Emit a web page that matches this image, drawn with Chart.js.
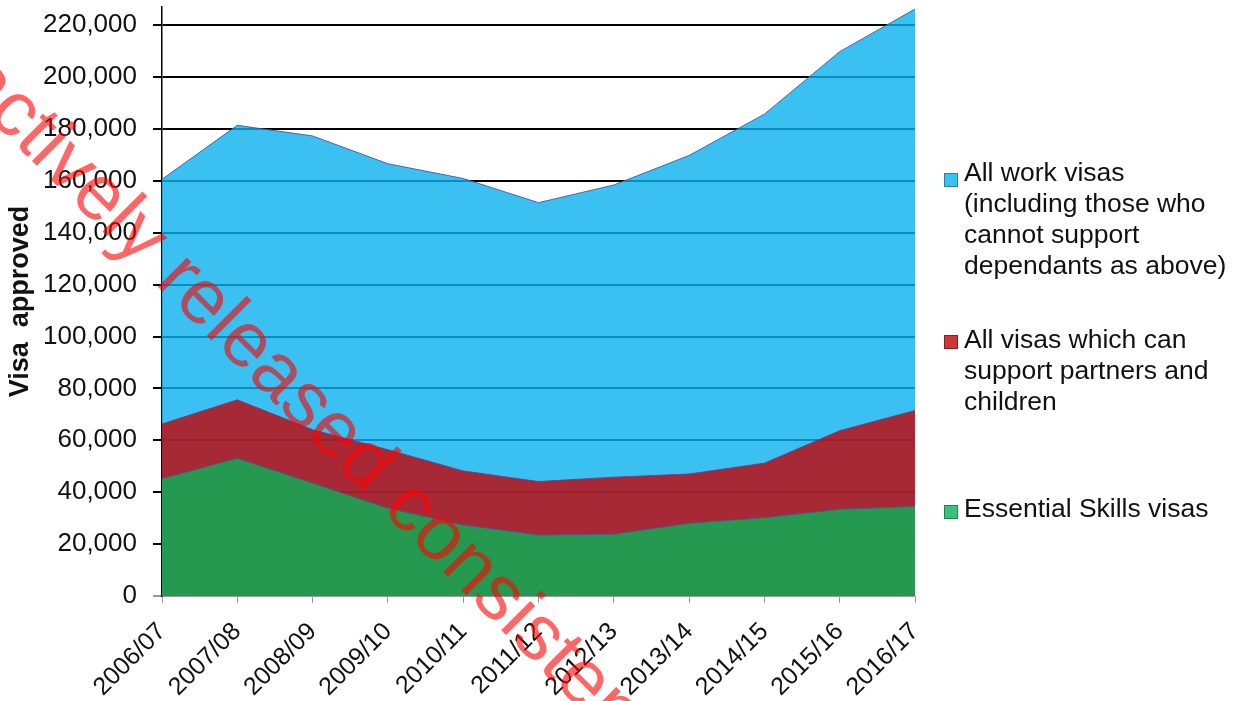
<!DOCTYPE html>
<html>
<head>
<meta charset="utf-8">
<script src="https://cdn.jsdelivr.net/npm/chart.js@4/dist/chart.umd.min.js"></script>
<style>
  html, body { margin: 0; padding: 0; background: #fff; }
  #wrap { position: relative; width: 1239px; height: 701px; overflow: hidden; }
  #c { position: absolute; left: 0; top: 0; }
  .leg { position: absolute; left: 964px; font-family: "Liberation Sans", Arial, sans-serif; font-size: 26.5px; line-height: 31px; color: #111; white-space: nowrap; }
  .sq { position: absolute; left: 944px; width: 12px; height: 12px; }
</style>
</head>
<body>
<div id="wrap">
  <canvas id="c" width="1239" height="701"></canvas>
</div>
<script>
const categories = ['2006/07','2007/08','2008/09','2009/10','2010/11','2011/12','2012/13','2013/14','2014/15','2015/16','2016/17'];
const allWorkVisas      = [160600, 181400, 177300, 166600, 160900, 151600, 158400, 169800, 185700, 209800, 226200];
const partnersChildren  = [66300, 75600, 64100, 56400, 48200, 44100, 45800, 47000, 51200, 63700, 71500];
const essentialSkills   = [45200, 53100, 43500, 33800, 27400, 23500, 23800, 28000, 30200, 33400, 34500];
const seriesNames = [
  ['All work visas', '(including those who', 'cannot support', 'dependants as above)'],
  ['All visas which can', 'support partners and', 'children'],
  ['Essential Skills visas']
];
const yTicks = [0, 20000, 40000, 60000, 80000, 100000, 120000, 140000, 160000, 180000, 200000, 220000];
const yAxisTitle = 'Visa  approved';
const watermarkText = ['Proactively ', 'released consistent'];

const fills = ['rgba(9,177,239,0.8)', 'rgba(195,4,7,0.8)', 'rgba(5,181,86,0.8)'];
const borders = ['rgba(70,85,150,0.9)', 'rgba(90,70,140,0.9)', 'rgba(90,80,150,0.9)'];
const squareBorders = ['#2a7fb0', '#8a2020', '#2a8050'];
const FONT = '"Liberation Sans", Arial, sans-serif';

const watermark = {
  id: 'watermark',
  afterDraw(chart) {
    const ctx = chart.ctx;
    ctx.save();
    ctx.translate(154, 283);
    ctx.rotate(45 * Math.PI / 180);
    ctx.font = '78px ' + FONT;
    ctx.fillStyle = 'rgba(255,0,0,0.6)';
    ctx.textBaseline = 'alphabetic';
    const w = ctx.measureText(watermarkText[0]).width;
    ctx.fillText(watermarkText[0] + watermarkText[1], -w, 0);
    ctx.restore();
  }
};

const seriesData = [allWorkVisas, partnersChildren, essentialSkills];
const datasets = seriesData.map((d, i) => ({
  label: seriesNames[i].join(' '),
  data: d,
  fill: 'origin',
  backgroundColor: fills[i],
  borderColor: borders[i],
  borderWidth: 1,
  pointRadius: 0,
  tension: 0,
  order: 3 - i
}));

new Chart(document.getElementById('c'), {
  type: 'line',
  data: { labels: categories, datasets },
  options: {
    responsive: false,
    animation: false,
    layout: { padding: { top: 7, right: 324, bottom: 0, left: 0 } },
    plugins: { legend: { display: false }, tooltip: { enabled: false } },
    scales: {
      x: {
        offset: false,
        grid: { drawOnChartArea: false, drawTicks: true, tickLength: 7, color: '#9a9a9a', lineWidth: 1 },
        border: { color: '#9a9a9a', width: 1 },
        ticks: { autoSkip: false, maxRotation: 45, minRotation: 45, padding: 14, color: '#111', font: { family: FONT, size: 25 } },
        afterFit(s) { s.height = 105; s.paddingLeft = 0; s.paddingRight = 0; }
      },
      y: {
        min: 0,
        max: 227000,
        afterBuildTicks(s) { s.ticks = yTicks.map(v => ({ value: v })); },
        grid: {
          color: ctx => (ctx.tick && ctx.tick.value === 0) ? '#9a9a9a' : '#000',
          lineWidth: 2,
          tickLength: 9
        },
        border: { color: '#000', width: 1.5 },
        ticks: {
          padding: 16,
          color: '#111',
          font: { family: FONT, size: 26 },
          callback: v => v.toLocaleString('en-US')
        },
        title: { display: true, text: yAxisTitle, color: '#111', font: { family: FONT, size: 27, weight: 'bold' }, padding: { top: 4, bottom: 0 } },
        afterFit(s) { s.width = 162; s.paddingTop = 0; s.paddingBottom = 0; }
      }
    }
  },
  plugins: [watermark]
});

// HTML legend built from series names and colours
const wrap = document.getElementById('wrap');
const legTops = [157, 324, 493];
const sqTops = [173, 335, 505];
seriesNames.forEach((lines, i) => {
  const sq = document.createElement('div');
  sq.className = 'sq';
  sq.style.top = sqTops[i] + 'px';
  sq.style.background = fills[i];
  sq.style.border = '1px solid ' + squareBorders[i];
  wrap.appendChild(sq);
  const d = document.createElement('div');
  d.className = 'leg';
  d.style.top = legTops[i] + 'px';
  d.innerHTML = lines.join('<br>');
  wrap.appendChild(d);
});
</script>
</body>
</html>
